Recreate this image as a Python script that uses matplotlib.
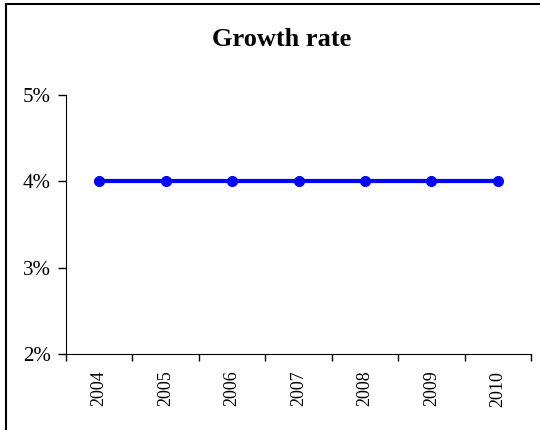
import matplotlib.pyplot as plt
from matplotlib.ticker import FuncFormatter

years = ['2004', '2005', '2006', '2007', '2008', '2009', '2010']
growth = [0.04, 0.04, 0.04, 0.04, 0.04, 0.04, 0.04]

plt.rcParams['font.family'] = 'Liberation Serif'

fig = plt.figure(figsize=(5.4, 4.3), dpi=100)
ax = fig.add_axes([66 / 540, 1 - 354 / 430, 465 / 540, 259 / 430])

# frame around the chart area (only top and left visible in the reference)
fig.patches.append(plt.Rectangle((6 / 540, -0.1), 1.2, 1 - 4 / 430 + 0.1,
                                 transform=fig.transFigure, fill=False,
                                 edgecolor='black', linewidth=1.5))

x = range(len(years))
ax.plot(x, growth, color='#0000FF', linewidth=3, marker='o', markersize=7)

ax.set_ylim(0.02, 0.05)
ax.set_yticks([0.02, 0.03, 0.04, 0.05])
ax.yaxis.set_major_formatter(FuncFormatter(lambda v, p: '%d%%' % round(v * 100)))
ax.set_xlim(-0.5, len(years) - 0.5)

# category ticks sit between the categories, labels in the middle
ax.set_xticks([i - 0.5 for i in range(len(years) + 1)])
ax.set_xticklabels([])
ax.set_xticks(list(x), minor=True)
ax.set_xticklabels(years, minor=True, rotation=90, fontsize=13)
ax.tick_params(axis='x', which='major', direction='out', length=5, width=1)
ax.tick_params(axis='x', which='minor', length=0, pad=12)
ax.tick_params(axis='y', direction='out', length=6, width=1, labelsize=15, pad=5)

ax.spines['top'].set_visible(False)
ax.spines['right'].set_visible(False)

fig.text(282 / 540, 1 - 39 / 430, 'Growth rate', ha='center', va='center',
         fontsize=19, fontweight='bold')

fig.savefig('out.png', dpi=100)
